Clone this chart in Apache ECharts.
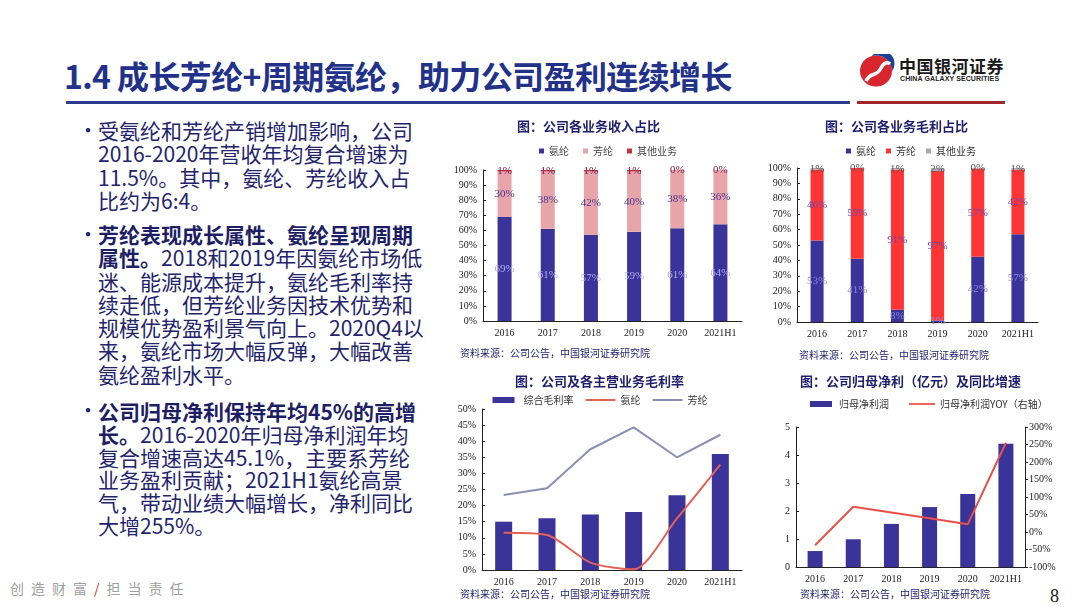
<!DOCTYPE html>
<html>
<head>
<meta charset="utf-8">
<script src="https://cdn.jsdelivr.net/npm/echarts/dist/echarts.min.js"></script>
<style>
  body { margin:0; width:1080px; height:607px; overflow:hidden; background:#fff; position:relative;
         font-family:'Noto Sans CJK SC', sans-serif; }
  .abs { position:absolute; }
  #title { left:64px; top:52px; font-size:32px; font-weight:bold; color:#22318a; letter-spacing:-0.6px; white-space:nowrap; }
  .bar-blue { left:66px; top:101px; width:784px; height:3px; background:#2b3c8e; }
  .bar-red { left:857px; top:101px; width:148px; height:3px; background:#a3282e; }
  .bullet { left:78px; font-size:21px; line-height:23.3px; color:#24246e; white-space:nowrap; }
  .bullet .dot { position:absolute; left:0; top:-1px; font-size:20px; }
  .bullet .txt { position:absolute; left:20px; top:0; }
  .bullet b { font-weight:bold; color:#1e1e66; }
  #footer { left:10px; top:578px; font-size:14px; color:#a0a0a0; letter-spacing:7px; white-space:nowrap; }
  #footer span { color:#c0392b; }
  #page { left:1050px; top:586px; font-family:'Liberation Serif', serif; font-size:18px; color:#222; }
  .chart { position:absolute; }
</style>
</head>
<body>
<div id="title" class="abs">1.4 成长芳纶+周期氨纶，助力公司盈利连续增长</div>
<div class="abs bar-blue"></div>
<div class="abs bar-red"></div>

<div class="abs" style="left:859px;top:54px;">
  <svg width="36" height="34" viewBox="0 0 36 34">
    <ellipse cx="17" cy="17" rx="16" ry="15.5" fill="#d9252e"/>
    <path d="M13 2 A16 15.5 0 0 1 33 17 A12 12 0 0 0 13 2 Z" fill="#1d3f95"/>
    <path d="M7 27 C12 17, 17 24, 22 14 C25 8, 29 8, 31 10" stroke="#fff" stroke-width="3.5" fill="none"/>
  </svg>
</div>
<div class="abs" style="left:899px;top:53px;font-size:17px;font-weight:bold;color:#1a1a1a;letter-spacing:0.5px;">中国银河证券</div>
<div class="abs" style="left:900px;top:75px;font-size:7px;font-weight:bold;color:#222;font-family:'Liberation Sans';letter-spacing:0.1px;">CHINA GALAXY SECURITIES</div>

<div class="abs bullet" style="top:119px;">
  <div class="dot">•</div>
  <div class="txt">受氨纶和芳纶产销增加影响，公司<br>2016-2020年营收年均复合增速为<br>11.5%。其中，氨纶、芳纶收入占<br>比约为6:4。</div>
</div>
<div class="abs bullet" style="top:223px;">
  <div class="dot">•</div>
  <div class="txt"><b>芳纶表现成长属性、氨纶呈现周期</b><br><b>属性。</b>2018和2019年因氨纶市场低<br>迷、能源成本提升，氨纶毛利率持<br>续走低，但芳纶业务因技术优势和<br>规模优势盈利景气向上。2020Q4以<br>来，氨纶市场大幅反弹，大幅改善<br>氨纶盈利水平。</div>
</div>
<div class="abs bullet" style="top:400px;line-height:22.8px;">
  <div class="dot">•</div>
  <div class="txt"><b>公司归母净利保持年均45%的高增</b><br><b>长。</b>2016-2020年归母净利润年均<br>复合增速高达45.1%，主要系芳纶<br>业务盈利贡献；2021H1氨纶高景<br>气，带动业绩大幅增长，净利同比<br>大增255%。</div>
</div>

<div id="footer" class="abs">创造财富<span>/</span>担当责任</div>
<div id="page" class="abs">8</div>

<div id="c1" class="chart" style="left:440px;top:110px;width:320px;height:250px;"></div>
<div id="c2" class="chart" style="left:760px;top:110px;width:320px;height:250px;"></div>
<div id="c3" class="chart" style="left:440px;top:365px;width:320px;height:242px;"></div>
<div id="c4" class="chart" style="left:760px;top:365px;width:320px;height:242px;"></div>

<script>
// 横轴
var years = ['2016', '2017', '2018', '2019', '2020', '2021H1'];

// 收入占比 (%)
var revSpandex = [69, 61, 57, 59, 61.4, 64];
var revAramid = [30, 38, 42, 40, 38.4, 36];
var revOther = [1, 1, 1, 1, 0.2, 0];

// 毛利占比 (%)
var gpSpandex = [53, 41, 8, 1, 42.4, 57];
var gpAramid = [46, 59, 91, 97, 57.2, 42];
var gpOther = [1, 0, 1, 2, 0.4, 1];

// 毛利率 (%)
var gmTotal = [15.0, 16.1, 17.2, 18.0, 23.2, 36.0];
var gmSpandex = [11.6, 10.9, 2.3, 0.2, 16.0, 32.7];
var gmAramid = [23.3, 25.4, 37.5, 44.3, 35.0, 42.0];

// 归母净利润 (亿元) 及同比 (%)
var netProfit = [0.57, 0.99, 1.54, 2.14, 2.61, 4.40];
var netYoy = [-38, 72, 56, 39, 22, 255];

var serif = "'Liberation Serif', 'DejaVu Serif', serif";
var cjk = "'Noto Sans CJK SC', sans-serif";
var blue = '#3a3399';
var navy = '#1f1f6e';
var lineIcon = 'path://M0,0H30V2H0Z';

function pct(p) {
  return Math.round(p.value) + '%';
}

function xAxisCfg() {
  return {
    type: 'category',
    data: years,
    axisLine: {lineStyle: {color: '#222'}},
    axisTick: {length: 3, lineStyle: {color: '#222'}},
    axisLabel: {interval: 0, fontFamily: serif, fontSize: 10, color: '#222', margin: 7}
  };
}

function yAxisCfg(min, max, step, fmt) {
  return {
    type: 'value',
    min: min,
    max: max,
    interval: step,
    axisLine: {show: true, lineStyle: {color: '#222'}},
    axisTick: {show: true, inside: true, length: 3, lineStyle: {color: '#222'}},
    splitLine: {show: false},
    axisLabel: {fontFamily: serif, fontSize: 10, color: '#222', margin: 6, formatter: fmt}
  };
}

function titleCfg(text, left) {
  return {
    text: text,
    left: left,
    top: 10,
    padding: 0,
    textStyle: {fontFamily: cjk, fontSize: 13, fontWeight: 'bold', color: navy}
  };
}

function sourceCfg(left, top) {
  return [{
    type: 'text',
    left: left,
    top: top,
    style: {text: '资料来源：公司公告，中国银河证券研究院', fontFamily: cjk, fontSize: 10, fill: navy}
  }];
}

function stackBar(name, data, color, labelColor, width) {
  return {
    name: name,
    type: 'bar',
    stack: 'all',
    data: data,
    barWidth: width,
    itemStyle: {color: color},
    label: {show: true, position: 'inside', formatter: pct, color: labelColor, fontFamily: serif, fontSize: 11}
  };
}

// 图1 收入占比
var chart1 = echarts.init(document.getElementById('c1'));
chart1.setOption({
  animation: false,
  title: titleCfg('图：公司各业务收入占比', 77),
  legend: {
    top: 36, left: 99, padding: 0, icon: 'rect', itemWidth: 5, itemHeight: 5, itemGap: 14,
    textStyle: {fontFamily: cjk, fontSize: 10, color: '#444'}
  },
  grid: {left: 43, right: 18, top: 60, bottom: 39},
  xAxis: xAxisCfg(),
  yAxis: yAxisCfg(0, 100, 10, '{value}%'),
  graphic: sourceCfg(20, 238),
  series: [
    stackBar('氨纶', revSpandex, blue, '#b3acec', 14),
    stackBar('芳纶', revAramid, '#e8a5a9', '#4a3590', 14),
    stackBar('其他业务', revOther, '#c8323c', '#7a2050', 14)
  ]
});

// 图2 毛利占比
var chart2 = echarts.init(document.getElementById('c2'));
chart2.setOption({
  animation: false,
  title: titleCfg('图：公司各业务毛利占比', 65),
  legend: {
    top: 36, left: 86, padding: 0, icon: 'rect', itemWidth: 5, itemHeight: 5, itemGap: 10,
    textStyle: {fontFamily: cjk, fontSize: 10, color: '#333'}
  },
  grid: {left: 37, right: 42, top: 58, bottom: 38},
  xAxis: xAxisCfg(),
  yAxis: yAxisCfg(0, 100, 10, '{value}%'),
  graphic: sourceCfg(39, 240),
  series: [
    stackBar('氨纶', gpSpandex, blue, '#8f84dc', 13),
    stackBar('芳纶', gpAramid, '#ff3535', '#6a48b0', 13),
    stackBar('其他业务', gpOther, '#a9a9b4', '#555', 13)
  ]
});

// 图3 毛利率
var chart3 = echarts.init(document.getElementById('c3'));
chart3.setOption({
  animation: false,
  title: titleCfg('图：公司及各主营业务毛利率', 75),
  legend: {
    top: 30, left: 'center', padding: 0, itemGap: 12, itemWidth: 30, itemHeight: 6,
    textStyle: {fontFamily: cjk, fontSize: 10, color: '#333'},
    data: [
      {name: '综合毛利率', icon: 'path://M0,0H22V6H0Z', itemStyle: {color: blue}},
      {name: '氨纶', icon: lineIcon},
      {name: '芳纶', icon: lineIcon}
    ]
  },
  grid: {left: 42, right: 18, top: 44, bottom: 37},
  xAxis: xAxisCfg(),
  yAxis: yAxisCfg(0, 50, 5, '{value}%'),
  graphic: sourceCfg(20, 224),
  series: [
    {name: '综合毛利率', type: 'bar', data: gmTotal, barWidth: 17, itemStyle: {color: blue}},
    {name: '氨纶', type: 'line', data: gmSpandex, symbol: 'none', smooth: 0.25,
      lineStyle: {color: '#e6605a', width: 2}, itemStyle: {color: '#e6605a'}},
    {name: '芳纶', type: 'line', data: gmAramid, symbol: 'none',
      lineStyle: {color: '#8e8db6', width: 2}, itemStyle: {color: '#8e8db6'}}
  ]
});

// 图4 归母净利润
var chart4 = echarts.init(document.getElementById('c4'));
var rightAxis = yAxisCfg(-100, 300, 50, '{value}%');
rightAxis.position = 'right';
rightAxis.axisTick = {show: true, inside: false, length: 3, lineStyle: {color: '#222'}};
rightAxis.axisLabel.margin = 4;
chart4.setOption({
  animation: false,
  title: titleCfg('图：公司归母净利（亿元）及同比增速', 40),
  legend: {
    top: 34, left: 50, padding: 0, itemGap: 20, itemWidth: 26, itemHeight: 6,
    textStyle: {fontFamily: cjk, fontSize: 10, color: '#333'},
    data: [
      {name: '归母净利润', icon: 'path://M0,0H22V6H0Z', itemStyle: {color: blue}},
      {name: '归母净利润YOY（右轴）', icon: lineIcon}
    ]
  },
  grid: {left: 36, right: 55, top: 62, bottom: 40},
  xAxis: xAxisCfg(),
  yAxis: [yAxisCfg(0, 5, 1, '{value}'), rightAxis],
  graphic: sourceCfg(40, 224),
  series: [
    {name: '归母净利润', type: 'bar', data: netProfit, barWidth: 15, itemStyle: {color: blue}},
    {name: '归母净利润YOY（右轴）', type: 'line', yAxisIndex: 1, data: netYoy, symbol: 'none',
      lineStyle: {color: '#e8504a', width: 2}, itemStyle: {color: '#e8504a'}}
  ]
});
</script>
</body>
</html>
